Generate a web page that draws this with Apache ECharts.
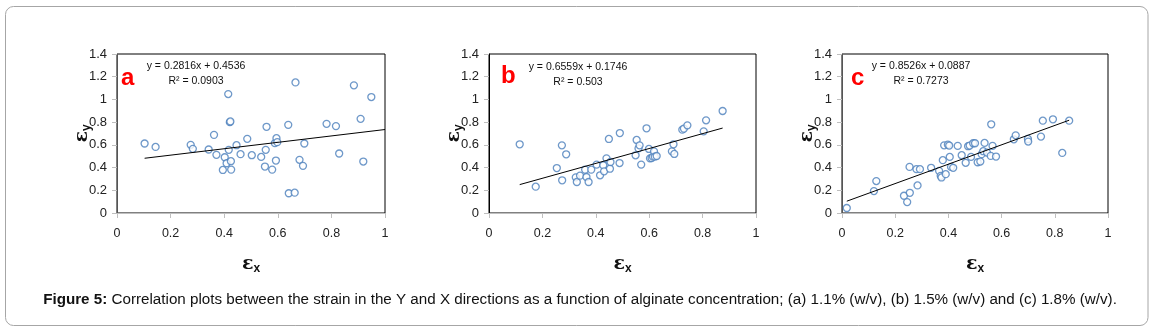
<!DOCTYPE html>
<html>
<head>
<meta charset="utf-8">
<script src="https://cdn.jsdelivr.net/npm/echarts@6/dist/echarts.min.js"></script>
<style>
  html, body { margin: 0; padding: 0; background: #fff; }
  #chart { width: 1157px; height: 329px; }
</style>
</head>
<body>
<div id="chart"></div>
<script>
// points, [x strain, y strain]
let pointsA = [
  [0.103, 0.612], [0.144, 0.582], [0.275, 0.600], [0.283, 0.565], [0.342, 0.559],
  [0.362, 0.688], [0.371, 0.512], [0.395, 0.379], [0.402, 0.491], [0.409, 0.438],
  [0.415, 1.047], [0.421, 0.800], [0.423, 0.806], [0.417, 0.556], [0.425, 0.456],
  [0.426, 0.382], [0.446, 0.597], [0.461, 0.518], [0.486, 0.653], [0.503, 0.509],
  [0.538, 0.494], [0.552, 0.409], [0.555, 0.556], [0.558, 0.759], [0.579, 0.382],
  [0.589, 0.615], [0.593, 0.462], [0.595, 0.659], [0.598, 0.624], [0.641, 0.174],
  [0.639, 0.776], [0.663, 0.179], [0.666, 1.150], [0.681, 0.468], [0.694, 0.415],
  [0.699, 0.612], [0.782, 0.785], [0.817, 0.765], [0.829, 0.524], [0.884, 1.124],
  [0.909, 0.829], [0.919, 0.453], [0.949, 1.021]
];
let pointsB = [
  [0.115, 0.605], [0.175, 0.232], [0.254, 0.396], [0.273, 0.596], [0.274, 0.288],
  [0.289, 0.517], [0.325, 0.314], [0.329, 0.273], [0.341, 0.329], [0.360, 0.382],
  [0.365, 0.317], [0.373, 0.273], [0.383, 0.382], [0.403, 0.426], [0.416, 0.332],
  [0.428, 0.420], [0.431, 0.367], [0.440, 0.481], [0.449, 0.652], [0.453, 0.390],
  [0.455, 0.449], [0.489, 0.440], [0.490, 0.704], [0.549, 0.508], [0.553, 0.643],
  [0.560, 0.569], [0.564, 0.596], [0.570, 0.426], [0.590, 0.746], [0.599, 0.564],
  [0.603, 0.481], [0.609, 0.484], [0.614, 0.496], [0.618, 0.543], [0.621, 0.496],
  [0.628, 0.502], [0.685, 0.543], [0.691, 0.605], [0.694, 0.520], [0.724, 0.734],
  [0.730, 0.743], [0.743, 0.772], [0.804, 0.719], [0.813, 0.816], [0.875, 0.898]
];
let pointsC = [
  [0.018, 0.044], [0.120, 0.193], [0.129, 0.281], [0.233, 0.152], [0.245, 0.096],
  [0.255, 0.178], [0.254, 0.406], [0.280, 0.386], [0.284, 0.243], [0.293, 0.386],
  [0.335, 0.398], [0.365, 0.371], [0.371, 0.327], [0.374, 0.313], [0.379, 0.465],
  [0.384, 0.596], [0.390, 0.342], [0.398, 0.602], [0.403, 0.594], [0.405, 0.494],
  [0.410, 0.406], [0.418, 0.398], [0.435, 0.591], [0.450, 0.509], [0.465, 0.442],
  [0.474, 0.588], [0.480, 0.594], [0.485, 0.494], [0.493, 0.614], [0.500, 0.614],
  [0.510, 0.447], [0.520, 0.453], [0.525, 0.518], [0.531, 0.544], [0.536, 0.617],
  [0.545, 0.532], [0.559, 0.503], [0.561, 0.781], [0.566, 0.591], [0.579, 0.497],
  [0.646, 0.649], [0.653, 0.684], [0.699, 0.652], [0.700, 0.629], [0.748, 0.673],
  [0.755, 0.813], [0.793, 0.825], [0.828, 0.529], [0.854, 0.813]
];

// trend line ends as drawn in the figure
let trendA = [[0.103, 0.482], [1.0, 0.735]];
let trendB = [[0.115, 0.250], [0.875, 0.748]];
let trendC = [[0.018, 0.104], [0.854, 0.817]];

let panelLetters = ["a", "b", "c"];
let equations = ["y = 0.2816x + 0.4536", "y = 0.6559x + 0.1746", "y = 0.8526x + 0.0887"];
let rSquared = ["R\u00b2 = 0.0903", "R\u00b2 = 0.503", "R\u00b2 = 0.7273"];

let xTicks = [0, 0.2, 0.4, 0.6, 0.8, 1];
let yTicks = [0, 0.2, 0.4, 0.6, 0.8, 1, 1.2, 1.4];

let caption = "Correlation plots between the strain in the Y and X directions as a function of alginate concentration; (a) 1.1% (w/v), (b) 1.5% (w/v) and (c) 1.8% (w/v).";

let V = {};

// plot boxes, left and right edge in px
V.boxes = [
  { left: 117, right: 772, rightColor: "#555" },
  { left: 489, right: 401, rightColor: "#000" },
  { left: 842, right: 49, rightColor: "#555" }
];

V.grid = function(i){
  return {
    left: V.boxes[i].left, right: V.boxes[i].right, top: 54, bottom: 116,
    show: true, borderColor: "#000", borderWidth: 1, backgroundColor: "transparent"
  };
}

V.xAxis = function(i){
  return {
    gridIndex: i, type: "value", min: xTicks[0], max: xTicks[xTicks.length - 1], interval: 0.2,
    splitLine: { show: false },
    axisLine: { onZero: false, lineStyle: { color: "#bfbfbf" } },
    axisTick: { length: 5, lineStyle: { color: "#bfbfbf" } },
    axisLabel: { color: "#222", fontFamily: "Liberation Sans Narrow, Liberation Sans", fontSize: 12.5, margin: 14 },
    name: "{e|\u03b5}{s|x}", nameLocation: "middle", nameGap: 40,
    nameTextStyle: { rich: {
      e: { fontSize: 19, fontWeight: "bold", color: "#111", fontFamily: "DejaVu Serif" },
      s: { fontSize: 12, fontWeight: "bold", color: "#111", padding: [10, 0, 0, 0] }
    } }
  };
}

V.yAxis = function(i){
  return {
    gridIndex: i, type: "value", min: yTicks[0], max: yTicks[yTicks.length - 1], interval: 0.2,
    splitLine: { show: false },
    axisLine: { onZero: false, lineStyle: { color: "#bfbfbf" } },
    axisTick: { length: 5, lineStyle: { color: "#bfbfbf" } },
    axisLabel: { color: "#222", fontFamily: "Liberation Sans", fontSize: 13, margin: 10 },
    name: "{e|\u03b5}{s|y}", nameLocation: "middle", nameGap: 24, nameRotate: 90,
    nameMoveOverlap: false,
    nameTextStyle: { rich: {
      e: { fontSize: 19, fontWeight: "bold", color: "#111", fontFamily: "DejaVu Serif" },
      s: { fontSize: 12, fontWeight: "bold", color: "#111", padding: [10, 0, 0, 0] }
    } }
  };
}

V.render = function(){
  let chart = echarts.init(document.querySelector("#chart"), null, { renderer: "canvas" });
  let allPoints = [pointsA, pointsB, pointsC];
  let allTrends = [trendA, trendB, trendC];
  let series = [];
  let graphics = [];

  [0, 1, 2].forEach(i => {
    series.push({
      type: "scatter", xAxisIndex: i, yAxisIndex: i, data: allPoints[i],
      symbol: "circle", symbolSize: 7,
      itemStyle: { color: "#fff", borderColor: "#4a7ebb", borderWidth: 1.3 }
    });
    series.push({
      type: "line", xAxisIndex: i, yAxisIndex: i, data: allTrends[i],
      symbol: "none", lineStyle: { color: "#000", width: 1 }, z: 3
    });
  });

  // right border of each box drawn on a hidden second axis
  let rightAxes = [0, 1, 2].map(i => ({
    gridIndex: i, type: "value", position: "right", min: 0, max: 1.4,
    axisLine: { show: true, lineStyle: { color: V.boxes[i].rightColor } },
    axisTick: { show: false }, axisLabel: { show: false }, splitLine: { show: false }
  }));

  // letters and equations
  let letterPos = [[121, 66], [501, 64], [851, 66]];
  let eqPos = [[196, 66], [578, 67], [921, 66]];
  panelLetters.forEach((l, i) => {
    graphics.push({
      type: "text", left: letterPos[i][0], top: letterPos[i][1],
      style: { text: l, fill: "#f00", font: "bold 24px Liberation Sans" }
    });
    graphics.push({
      type: "text", x: eqPos[i][0], y: eqPos[i][1],
      style: { text: equations[i], fill: "#111", font: "10.5px Liberation Sans", align: "center", verticalAlign: "middle" }
    });
    graphics.push({
      type: "text", x: eqPos[i][0], y: eqPos[i][1] + 15,
      style: { text: rSquared[i], fill: "#111", font: "10.5px Liberation Sans", align: "center", verticalAlign: "middle" }
    });
  });

  // outer rounded frame
  graphics.push({
    type: "rect", shape: { x: 5.5, y: 6.5, width: 1142.5, height: 319, r: 8 },
    style: { fill: "none", stroke: "#a6a6a6", lineWidth: 1 }, silent: true
  });

  graphics.push({
    type: "text", x: 580, y: 300,
    style: {
      text: "{b|Figure 5:} " + caption, align: "center", verticalAlign: "middle",
      font: "15.2px Liberation Sans", fill: "#111",
      rich: { b: { font: "bold 15.2px Liberation Sans", fill: "#111" } }
    }
  });

  let option = {
    animation: false,
    grid: [V.grid(0), V.grid(1), V.grid(2)],
    xAxis: [V.xAxis(0), V.xAxis(1), V.xAxis(2)],
    yAxis: [V.yAxis(0), V.yAxis(1), V.yAxis(2)].concat(rightAxes),
    series: series,
    graphic: graphics
  };

  chart.setOption(option);
}

V.render();
</script>
</body>
</html>
